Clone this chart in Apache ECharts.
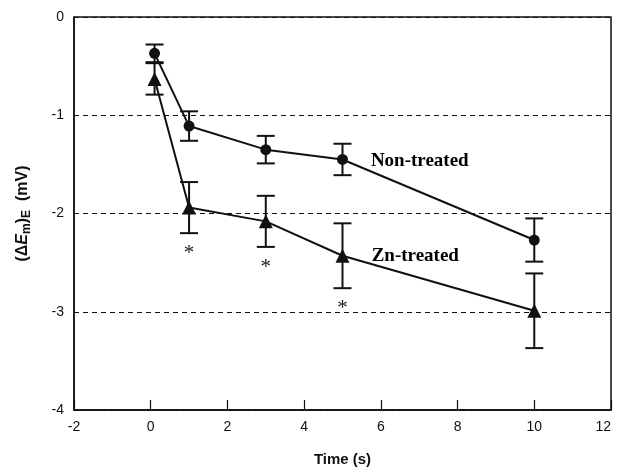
<!DOCTYPE html>
<html>
<head>
<meta charset="utf-8">
<script src="https://cdn.jsdelivr.net/npm/echarts@6/dist/echarts.min.js"></script>
<style>
  html, body { margin: 0; padding: 0; background: #fff; }
  #main { width: 617px; height: 467px; }
</style>
</head>
<body>
<div id="main"></div>
<script>
  // time points (s)
  var times = [0.1, 1, 3, 5, 10];
  // (dEm)E in mV, mean and error
  var nonTreated = [-0.37, -1.11, -1.35, -1.45, -2.27];
  var nonTreatedErr = [0.09, 0.15, 0.14, 0.16, 0.22];
  var znTreated = [-0.63, -1.94, -2.08, -2.43, -2.99];
  var znTreatedErr = [0.16, 0.26, 0.26, 0.33, 0.38];
  // points marked with *
  var starIdx = [1, 2, 3];
  // axis ticks
  var xTicks = [-2, 0, 2, 4, 6, 8, 10, 12];
  var yTicks = [-4, -3, -2, -1, 0];
  // series text labels [x, y, text]
  var seriesLabels = [[5.74, -1.47, 'Non-treated'], [5.76, -2.43, 'Zn-treated']];

  function pts(ys) {
    return times.map(function (t, i) { return [t, ys[i]]; });
  }
  function errData(ys, es) {
    return times.map(function (t, i) { return [t, ys[i] - es[i], ys[i] + es[i]]; });
  }
  // draws vertical error bar with caps
  function renderErr(params, api) {
    var lo = api.coord([api.value(0), api.value(1)]);
    var hi = api.coord([api.value(0), api.value(2)]);
    var w = 9;
    var st = { stroke: '#111', lineWidth: 2 };
    return {
      type: 'group',
      children: [
        { type: 'line', shape: { x1: lo[0], y1: lo[1], x2: hi[0], y2: hi[1] }, style: st },
        { type: 'line', shape: { x1: lo[0] - w, y1: lo[1], x2: lo[0] + w, y2: lo[1] }, style: st },
        { type: 'line', shape: { x1: hi[0] - w, y1: hi[1], x2: hi[0] + w, y2: hi[1] }, style: st }
      ]
    };
  }
  // asterisk under lower error bar
  function renderStar(params, api) {
    var p = api.coord([api.value(0), api.value(1)]);
    return {
      type: 'text',
      x: p[0], y: p[1] + 10,
      style: {
        text: '*', fill: '#222', align: 'center', verticalAlign: 'top',
        font: '21px "Liberation Serif", "Times New Roman", serif'
      }
    };
  }
  // text label next to a line
  function renderLabel(params, api) {
    var p = api.coord([api.value(0), api.value(1)]);
    return {
      type: 'text',
      x: p[0], y: p[1],
      style: {
        text: seriesLabels[params.dataIndex][2], fill: '#000', align: 'left', verticalAlign: 'middle',
        font: 'bold 19px "Liberation Serif", "Times New Roman", serif'
      }
    };
  }

  var chart = echarts.init(document.getElementById('main'));
  chart.setOption({
    animation: false,
    backgroundColor: '#fff',
    grid: {
      left: 74, right: 6, top: 17, bottom: 57,
      outerBoundsMode: 'none',
      show: true, borderColor: '#111', borderWidth: 1.5
    },
    xAxis: {
      type: 'value',
      min: xTicks[0], max: xTicks[xTicks.length - 1], interval: 2,
      name: 'Time (s)',
      nameLocation: 'middle',
      nameGap: 42,
      nameTextStyle: { fontFamily: 'Liberation Sans, Arial', fontWeight: 'bold', fontSize: 15, color: '#111' },
      axisLine: { onZero: false, lineStyle: { color: '#111', width: 1.5 } },
      axisTick: { inside: true, length: 10, lineStyle: { color: '#111', width: 1.2 } },
      axisLabel: { margin: 10, alignMaxLabel: 'right', fontFamily: 'Liberation Sans, Arial', fontSize: 14, color: '#111' },
      splitLine: { show: false }
    },
    yAxis: {
      type: 'value',
      min: yTicks[0], max: yTicks[yTicks.length - 1], interval: 1,
      name: '{a|(Δ}{e|E}{s|m}{a|)}{s|E}{a|  (mV)}',
      nameLocation: 'middle',
      nameRotate: 90,
      nameGap: 41,
      nameTextStyle: {
        color: '#111',
        rich: {
          a: { fontFamily: 'Liberation Sans, Arial', fontWeight: 'bold', fontSize: 16, color: '#111' },
          e: { fontFamily: 'Liberation Sans, Arial', fontWeight: 'bold', fontStyle: 'italic', fontSize: 16, color: '#111' },
          s: { fontFamily: 'Liberation Sans, Arial', fontWeight: 'bold', fontSize: 12, color: '#111', padding: [9, 0, 0, 0] }
        }
      },
      axisLine: { onZero: false, lineStyle: { color: '#111', width: 1.5 } },
      axisTick: { show: false },
      axisLabel: { margin: 10, fontFamily: 'Liberation Sans, Arial', fontSize: 14, color: '#111' },
      splitLine: { show: true, lineStyle: { color: '#111', width: 1, type: [5, 4] } }
    },
    series: [
      {
        type: 'custom', name: 'nonErr',
        renderItem: renderErr,
        data: errData(nonTreated, nonTreatedErr),
        z: 3
      },
      {
        type: 'custom', name: 'znErr',
        renderItem: renderErr,
        data: errData(znTreated, znTreatedErr),
        z: 3
      },
      {
        type: 'line', name: 'Non-treated',
        data: pts(nonTreated),
        symbol: 'circle', symbolSize: 11,
        itemStyle: { color: '#111' },
        lineStyle: { color: '#111', width: 2 },
        z: 4
      },
      {
        type: 'line', name: 'Zn-treated',
        data: pts(znTreated),
        symbol: 'triangle', symbolSize: 14,
        itemStyle: { color: '#111' },
        lineStyle: { color: '#111', width: 2 },
        z: 4
      },
      {
        type: 'custom', name: 'stars',
        renderItem: renderStar,
        data: starIdx.map(function (i) { return [times[i], znTreated[i] - znTreatedErr[i]]; }),
        silent: true, z: 5
      },
      {
        type: 'custom', name: 'labels',
        renderItem: renderLabel,
        data: seriesLabels.map(function (d) { return [d[0], d[1]]; }),
        silent: true, z: 5
      }
    ]
  });
</script>
</body>
</html>
